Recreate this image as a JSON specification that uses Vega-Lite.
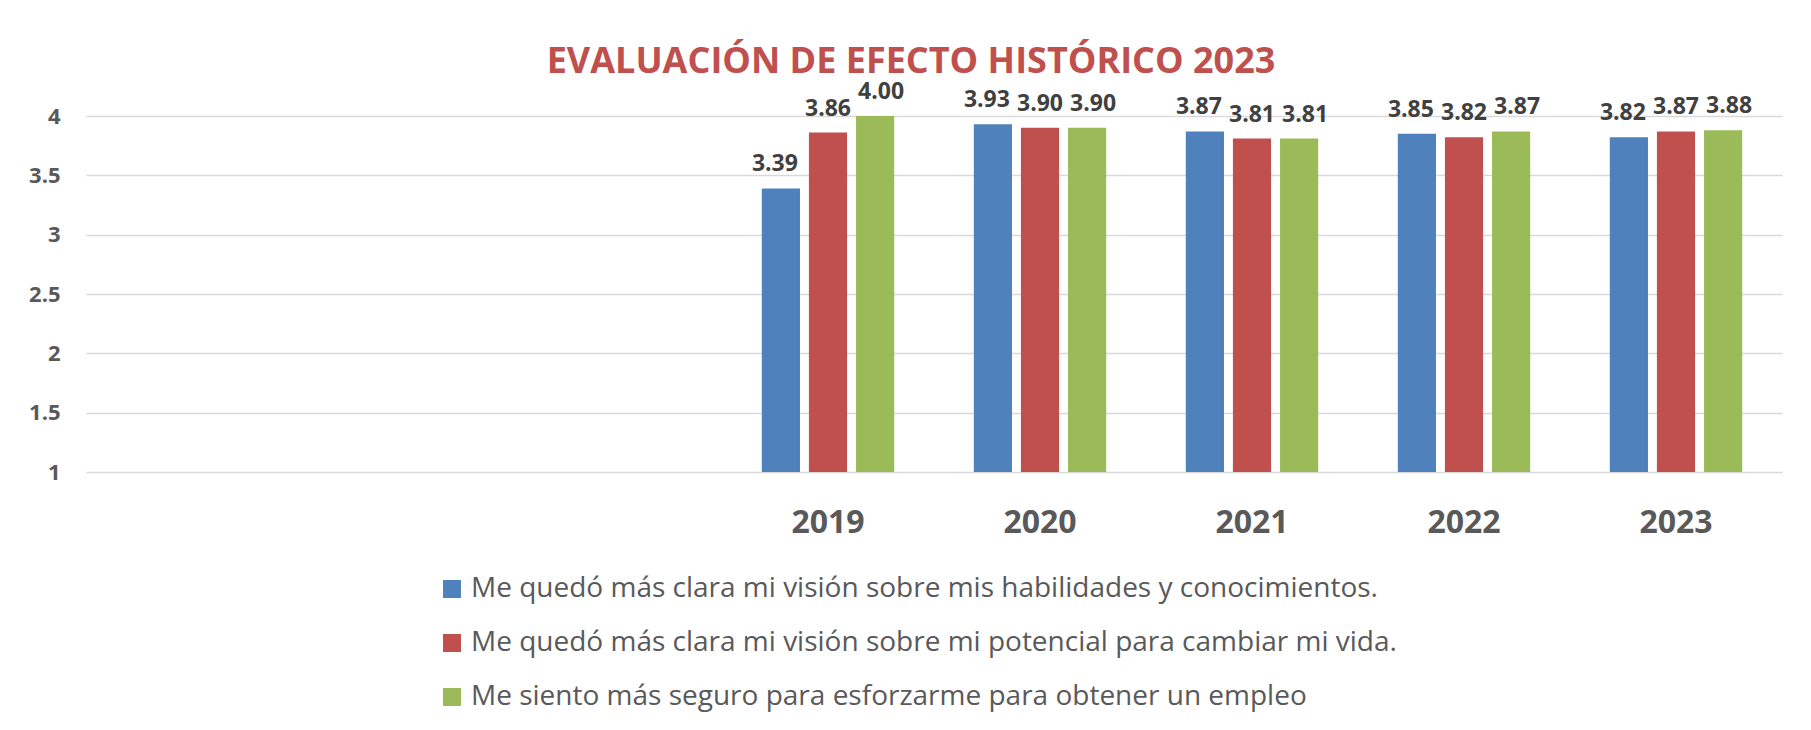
{
  "$schema": "https://vega.github.io/schema/vega-lite/v6.json",
  "autosize": "none",
  "width": 1696,
  "height": 356,
  "padding": {"left": 86, "top": 116, "right": 29, "bottom": 258},
  "background": "white",
  "config": {
    "font": "Open Sans",
    "view": {"stroke": null}
  },
  "title": {
    "text": "EVALUACIÓN DE EFECTO HISTÓRICO 2023",
    "font": "Open Sans",
    "fontSize": 36,
    "fontWeight": "bold",
    "color": "#C0504D",
    "anchor": "middle",
    "baseline": "alphabetic",
    "offset": 0,
    "dx": -23,
    "dy": 28
  },
  "data": {
    "values": [
      {"year": "2019", "serie": "Me quedó más clara mi visión sobre mis habilidades y conocimientos.", "value": 3.39},
      {"year": "2019", "serie": "Me quedó más clara mi visión sobre mi potencial para cambiar mi vida.", "value": 3.86},
      {"year": "2019", "serie": "Me siento más seguro para esforzarme para obtener un empleo", "value": 4.00},
      {"year": "2020", "serie": "Me quedó más clara mi visión sobre mis habilidades y conocimientos.", "value": 3.93},
      {"year": "2020", "serie": "Me quedó más clara mi visión sobre mi potencial para cambiar mi vida.", "value": 3.90},
      {"year": "2020", "serie": "Me siento más seguro para esforzarme para obtener un empleo", "value": 3.90},
      {"year": "2021", "serie": "Me quedó más clara mi visión sobre mis habilidades y conocimientos.", "value": 3.87},
      {"year": "2021", "serie": "Me quedó más clara mi visión sobre mi potencial para cambiar mi vida.", "value": 3.81},
      {"year": "2021", "serie": "Me siento más seguro para esforzarme para obtener un empleo", "value": 3.81},
      {"year": "2022", "serie": "Me quedó más clara mi visión sobre mis habilidades y conocimientos.", "value": 3.85},
      {"year": "2022", "serie": "Me quedó más clara mi visión sobre mi potencial para cambiar mi vida.", "value": 3.82},
      {"year": "2022", "serie": "Me siento más seguro para esforzarme para obtener un empleo", "value": 3.87},
      {"year": "2023", "serie": "Me quedó más clara mi visión sobre mis habilidades y conocimientos.", "value": 3.82},
      {"year": "2023", "serie": "Me quedó más clara mi visión sobre mi potencial para cambiar mi vida.", "value": 3.87},
      {"year": "2023", "serie": "Me siento más seguro para esforzarme para obtener un empleo", "value": 3.88}
    ]
  },
  "encoding": {
    "x": {
      "field": "year",
      "type": "nominal",
      "title": null,
      "scale": {
        "domain": [" ", "  ", "   ", "2019", "2020", "2021", "2022", "2023"],
        "paddingInner": 0.3,
        "paddingOuter": 0.15
      },
      "axis": {
        "labelAngle": 0,
        "labelFont": "Open Sans",
        "labelFontSize": 32,
        "labelFontWeight": "bold",
        "labelColor": "#595959",
        "labelBaseline": "alphabetic",
        "labelPadding": 60,
        "ticks": false,
        "domain": false,
        "grid": false
      }
    },
    "xOffset": {
      "field": "serie",
      "type": "nominal",
      "sort": null,
      "scale": {
        "domain": [
          "Me quedó más clara mi visión sobre mis habilidades y conocimientos.",
          "Me quedó más clara mi visión sobre mi potencial para cambiar mi vida.",
          "Me siento más seguro para esforzarme para obtener un empleo"
        ],
        "paddingInner": 0.19,
        "paddingOuter": 0.17
      }
    },
    "y": {
      "field": "value",
      "type": "quantitative",
      "title": null,
      "scale": {"domain": [1, 4], "zero": false, "nice": false},
      "axis": {
        "values": [1, 1.5, 2, 2.5, 3, 3.5, 4],
        "format": ".1~f",
        "labelFont": "Open Sans",
        "labelFontSize": 22,
        "labelFontWeight": "bold",
        "labelColor": "#595959",
        "labelPadding": 26,
        "ticks": false,
        "domain": false,
        "grid": true,
        "gridColor": "#d9d9d9",
        "gridWidth": 1.5
      }
    },
    "text": {"field": "value", "type": "quantitative", "format": ".2f"}
  },
  "layer": [
    {
      "mark": {"type": "bar"},
      "encoding": {
        "text": null,
        "y2": {"datum": 1},
        "color": {
          "field": "serie",
          "type": "nominal",
          "sort": null,
          "scale": {"range": ["#4F81BD", "#C0504D", "#9BBB59"]},
          "legend": {
            "title": null,
            "orient": "none",
            "legendX": 352,
            "legendY": 459,
            "direction": "vertical",
            "symbolType": "square",
            "symbolSize": 324,
            "symbolStrokeWidth": 0,
            "labelFont": "Open Sans",
            "labelFontSize": 28,
            "labelColor": "#595959",
            "labelOffset": 5,
            "labelLimit": 1200,
            "rowPadding": 26,
            "padding": 0
          }
        }
      }
    },
    {
      "transform": [{"filter": "datum.serie === 'Me quedó más clara mi visión sobre mis habilidades y conocimientos.'"}],
      "mark": {
        "type": "text",
        "baseline": "alphabetic",
        "dy": -17,
        "dx": -6,
        "font": "Open Sans",
        "fontSize": 23,
        "fontWeight": "bold",
        "color": "#404040"
      }
    },
    {
      "transform": [{"filter": "datum.serie === 'Me quedó más clara mi visión sobre mi potencial para cambiar mi vida.'"}],
      "mark": {
        "type": "text",
        "baseline": "alphabetic",
        "dy": -17,
        "font": "Open Sans",
        "fontSize": 23,
        "fontWeight": "bold",
        "color": "#404040"
      }
    },
    {
      "transform": [{"filter": "datum.serie === 'Me siento más seguro para esforzarme para obtener un empleo'"}],
      "mark": {
        "type": "text",
        "baseline": "alphabetic",
        "dy": -17,
        "dx": 6,
        "font": "Open Sans",
        "fontSize": 23,
        "fontWeight": "bold",
        "color": "#404040"
      }
    }
  ]
}
